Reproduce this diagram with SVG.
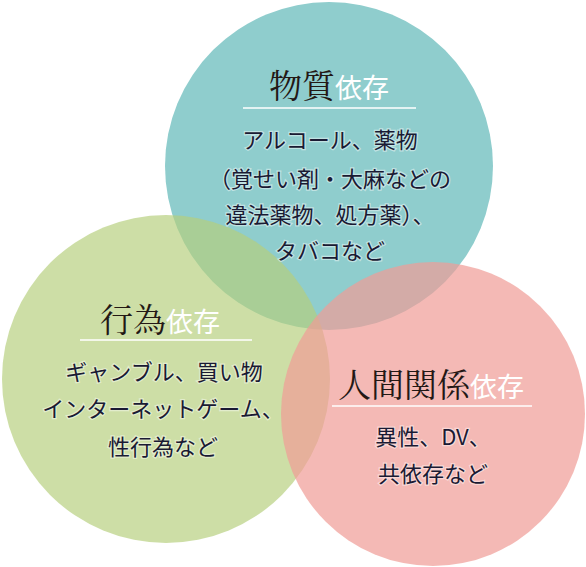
<svg xmlns="http://www.w3.org/2000/svg" width="586" height="567" viewBox="0 0 586 567">
<style>
.title{font-family:"Noto Serif CJK JP","Noto Sans CJK JP",serif;font-size:33px;fill:#231815;}
.sub{font-family:"Noto Sans CJK JP",sans-serif;font-size:27px;fill:#ffffff;}
.body{font-family:"Noto Sans CJK JP",sans-serif;font-size:22px;font-weight:400;fill:#1a1a33;text-anchor:middle;stroke:#ffffff;stroke-width:2.5px;stroke-opacity:0.45;paint-order:stroke;}
.rule{stroke:#ffffff;stroke-width:1.5;}
</style>
<rect width="586" height="567" fill="#ffffff"/>
<g id="circles">
<circle id="c-substance" cx="329" cy="166" r="164" fill="#8fcdcd"/>
<circle id="c-behavior" cx="166" cy="379" r="164" fill="#b6cf7c" fill-opacity="0.68"/>
<circle id="c-relation" cx="433" cy="414" r="152" fill="#f09c97" fill-opacity="0.71"/>
</g>
<g id="connectors"></g>
<g id="node-substance">
<text x="329" y="98" text-anchor="middle"><tspan class="title">物質</tspan><tspan class="sub">依存</tspan></text>
<line class="rule" x1="243" y1="108" x2="416" y2="108"/>
<text class="body" x="330" y="148">アルコール、薬物</text>
<text class="body" x="330" y="187">（覚せい剤・大麻などの</text>
<text class="body" x="330" y="223">違法薬物、処方薬）、</text>
<text class="body" x="330" y="259">タバコなど</text>
</g>
<g id="node-behavior">
<text x="160" y="332" text-anchor="middle"><tspan class="title">行為</tspan><tspan class="sub">依存</tspan></text>
<line class="rule" x1="80" y1="340" x2="252" y2="340"/>
<text class="body" x="164" y="380">ギャンブル、買い物</text>
<text class="body" x="163" y="417">インターネットゲーム、</text>
<text class="body" x="163" y="455">性行為など</text>
</g>
<g id="node-relation">
<text x="431" y="397" text-anchor="middle"><tspan class="title">人間関係</tspan><tspan class="sub">依存</tspan></text>
<line class="rule" x1="332" y1="406" x2="532" y2="406"/>
<text class="body" x="433" y="445">異性、DV、</text>
<text class="body" x="433" y="482">共依存など</text>
</g>
</svg>
